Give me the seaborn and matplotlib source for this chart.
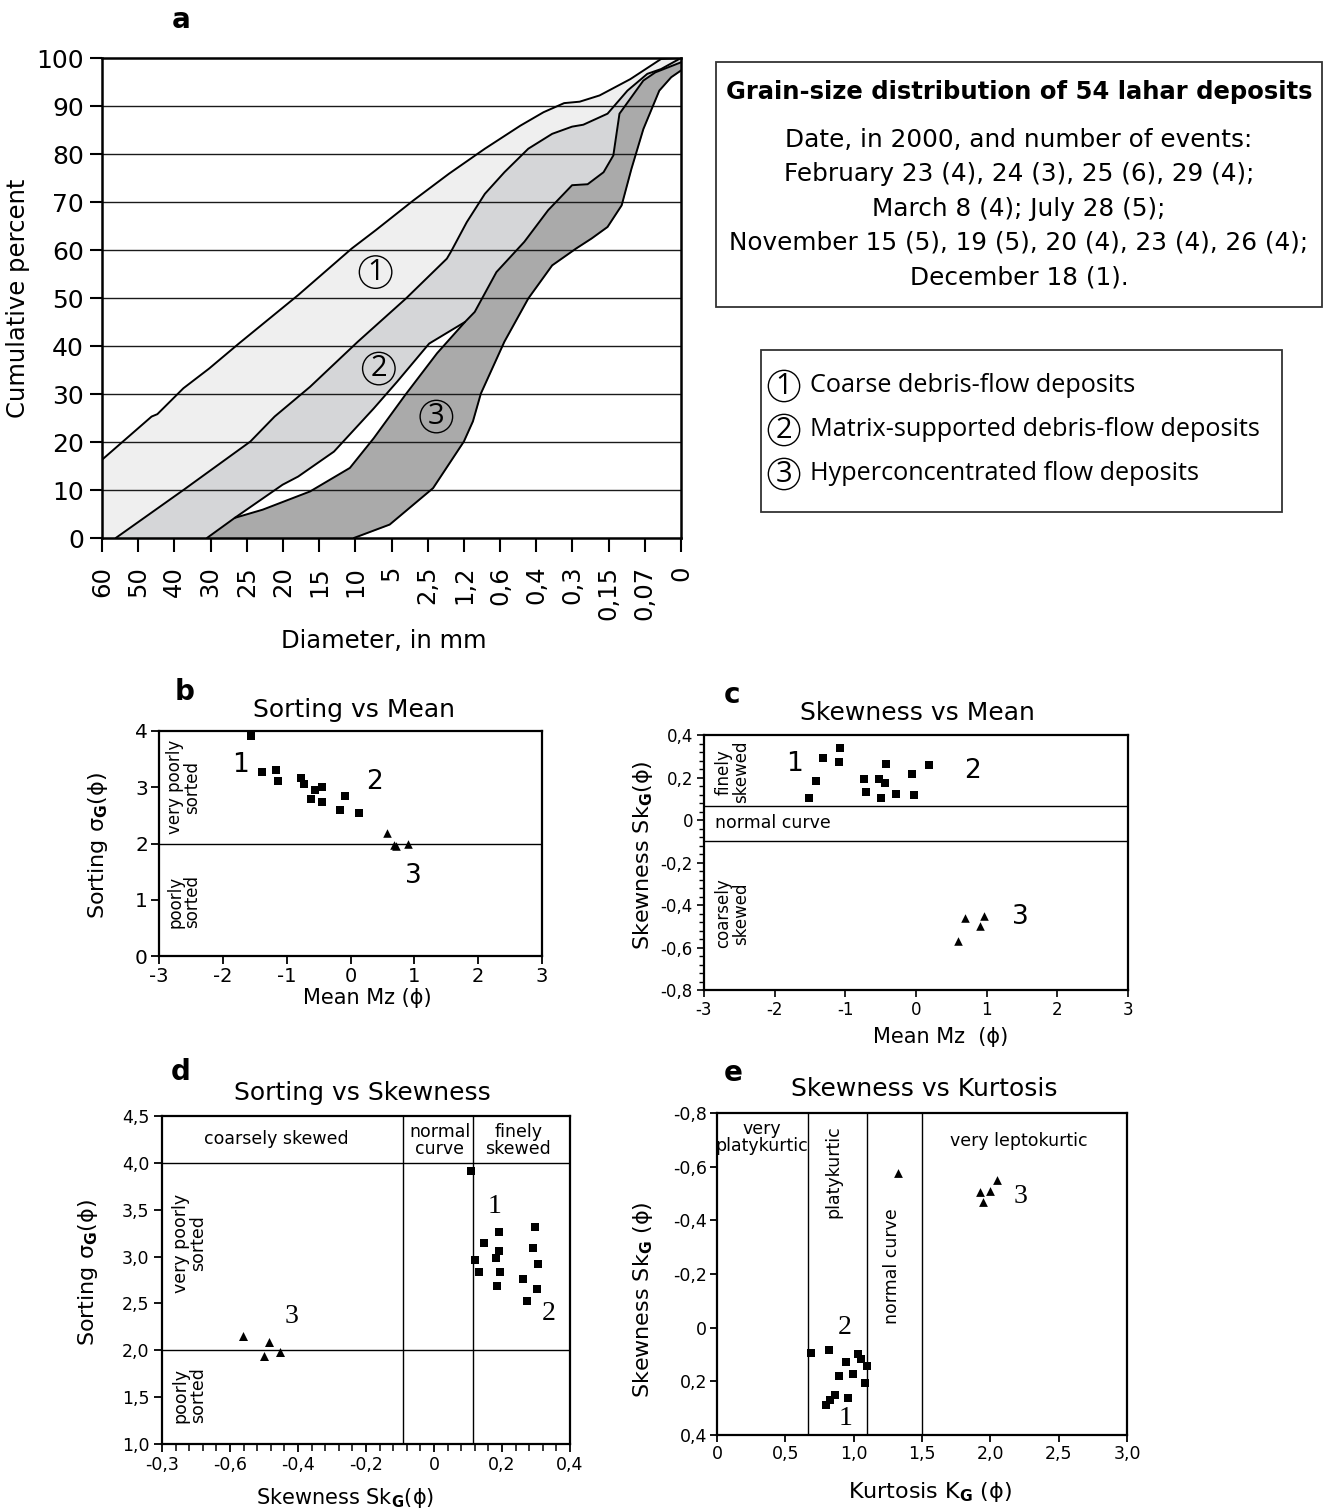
import numpy as np
import matplotlib
matplotlib.use("Agg")
import matplotlib.pyplot as plt
import seaborn as sns
from matplotlib.patches import Rectangle
from matplotlib.ticker import MultipleLocator

sns.set_theme(style="ticks", rc={"axes.edgecolor": "black", "xtick.color": "black",
                                 "ytick.color": "black", "text.color": "black",
                                 "axes.labelcolor": "black"})
plt.rcParams["font.family"] = ["DejaVu Sans"]
plt.rcParams["mathtext.fontset"] = "dejavusans"

# ---------------- data: panel a (cumulative grain-size envelopes) ----------------
size_labels = ["60", "50", "40", "30", "25", "20", "15", "10", "5", "2,5", "1,2",
               "0,6", "0,4", "0,3", "0,15", "0,07", "0"]
pct_ticks = [0, 10, 20, 30, 40, 50, 60, 70, 80, 90, 100]

band1_top_x = [0, 1.37, 1.53, 2.25, 2.96, 3.78, 5.42, 6.9, 7.56, 8.6, 9.59, 10.58,
               11.56, 12.2, 12.77, 13.2, 13.75, 14.6, 15.45, 16]
band1_top_y = [16.3, 25.3, 25.8, 31.2, 35.3, 40.5, 50.6, 60.3, 64.1, 70.3, 75.9, 81.1,
               85.9, 88.7, 90.6, 90.9, 92.2, 95.6, 99.8, 100]

band2_top_x = [0.38, 2.25, 4.1, 4.77, 5.75, 7.07, 8.4, 9.53, 9.64, 10.08, 10.58, 11.12,
               11.78, 12.44, 12.99, 13.3, 13.97, 14.52, 15.07, 15.45, 16]
band2_top_y = [0, 10, 20.1, 25.3, 31.5, 40.9, 49.9, 58.2, 59.6, 65.8, 71.7, 76.2,
               81.1, 84.2, 85.7, 86.1, 88.4, 93.2, 96.7, 97.7, 100]

band2_bot_x = [2.9, 3.67, 4.99, 5.42, 6.41, 7.51, 8.16, 9.04, 10.03, 10.3, 10.9, 11.67,
               12.33, 12.99, 13.42, 13.86, 14.13, 14.3, 14.96, 15.29, 16]
band2_bot_y = [0, 4.2, 11.1, 12.8, 18, 27, 32.6, 40.5, 45, 47.1, 55.4, 61.7,
               68.3, 73.5, 73.7, 76.2, 79.7, 88.4, 95.3, 97, 99.1]

band3_top_x = [3.67, 4.44, 5.75, 6.85, 7.51, 8.38, 9.26, 10.03]
band3_top_y = [4.2, 5.9, 9.7, 14.6, 20.8, 29.8, 38.5, 45]

band3_bot_x = [6.96, 7.95, 9.15, 10, 10.25, 10.47, 11.12, 11.78, 12.44, 13.1, 13.53,
               13.97, 14.36, 14.63, 14.96, 15.4, 15.73, 16]
band3_bot_y = [0, 2.8, 10.4, 20.1, 24.3, 30.1, 40.9, 49.9, 56.8, 60.3, 62.4,
               64.8, 69.3, 76.9, 85.2, 93.2, 96, 97.4]

# ---------------- data: panel b (sorting vs mean) ----------------
b_sq_mean = [-1.56, -1.38, -1.17, -1.13, -0.77, -0.73, -0.62, -0.55, -0.44, -0.45, -0.17, -0.09, 0.13]
b_sq_sort = [3.91, 3.27, 3.31, 3.12, 3.16, 3.06, 2.80, 2.95, 3.00, 2.74, 2.59, 2.85, 2.55]
b_tr_mean = [0.57, 0.68, 0.72, 0.90]
b_tr_sort = [2.18, 1.98, 1.96, 1.99]

# ---------------- data: panel c (skewness vs mean) ----------------
c_sq_mean = [-1.08, -1.32, -1.09, -1.42, -1.52, -0.43, -0.73, -0.53, -0.44, -0.71, -0.49, -0.28, -0.06, -0.03, 0.19]
c_sq_skew = [0.338, 0.294, 0.274, 0.184, 0.103, 0.264, 0.191, 0.191, 0.176, 0.134, 0.103, 0.122, 0.216, 0.118, 0.260]
c_tr_mean = [0.69, 0.96, 0.91, 0.60]
c_tr_skew = [-0.460, -0.452, -0.501, -0.568]

# ---------------- data: panel d (sorting vs skewness) ----------------
d_sq_skew = [0.109, 0.191, 0.147, 0.122, 0.131, 0.190, 0.181, 0.194, 0.184, 0.296, 0.290, 0.306, 0.302, 0.261, 0.273]
d_sq_sort = [3.91, 3.26, 3.15, 2.96, 2.84, 3.06, 2.99, 2.84, 2.69, 3.32, 3.09, 2.92, 2.65, 2.76, 2.53]
d_tr_skew = [-0.563, -0.486, -0.501, -0.453]
d_tr_sort = [2.155, 2.087, 1.94, 1.98]
d_xticks = [-0.8, -0.6, -0.4, -0.2, 0.0, 0.2, 0.4]
d_xticklabels = ["-0,3", "-0,6", "-0,4", "-0,2", "0", "0,2", "0,4"]
d_yticks = [1.0, 1.5, 2.0, 2.5, 3.0, 3.5, 4.0, 4.5]
d_yticklabels = ["1,0", "1,5", "2,0", "2,5", "3,0", "3,5", "4,0", "4,5"]

# ---------------- data: panel e (skewness vs kurtosis) ----------------
e_sq_kurt = [0.689, 0.818, 0.941, 1.029, 1.051, 1.097, 0.892, 0.992, 1.080, 0.860, 0.958, 0.828, 0.794]
e_sq_skew = [0.094, 0.082, 0.127, 0.098, 0.116, 0.141, 0.179, 0.172, 0.205, 0.252, 0.261, 0.271, 0.287]
e_tr_kurt = [1.327, 1.928, 2.000, 2.047, 1.945]
e_tr_skew = [-0.577, -0.506, -0.508, -0.549, -0.469]
e_xticks = [0, 0.5, 1.0, 1.5, 2.0, 2.5, 3.0]
e_xticklabels = ["0", "0,5", "1,0", "1,5", "2,0", "2,5", "3,0"]
e_yticks = [-0.8, -0.6, -0.4, -0.2, 0.0, 0.2, 0.4]
e_yticklabels = ["-0,8", "-0,6", "-0,4", "-0,2", "0", "0,2", "0,4"]
c_yticklabels = ["-0,8", "-0,6", "-0,4", "-0,2", "0", "0,2", "0,4"]

LIGHT, MID, DARK = "#efefef", "#d5d6d8", "#aaaaaa"

W, H = 1324, 1509
fig = plt.figure(figsize=(W / 100, H / 100), dpi=100)


def fx(px):
    return px / W


def fy(py):
    return 1 - py / H


def add_axes(l, r, t, b):
    return fig.add_axes([fx(l), fy(b), (r - l) / W, (b - t) / H])


def style_spines(ax, lw=1.6):
    for s in ax.spines.values():
        s.set_visible(True)
        s.set_linewidth(lw)
        s.set_color("black")


# ================= panel a =================
axa = add_axes(102, 681, 58, 538)
axa.fill_between(band1_top_x, band1_top_y, 0, color=LIGHT, lw=0, zorder=1)
axa.fill_between(band2_top_x, band2_top_y, 0, color=MID, lw=0, zorder=1.1)
axa.fill_between(band2_bot_x, band2_bot_y, 0, color=DARK, lw=0, zorder=1.2)
b2x, b2y = np.array(band2_bot_x), np.array(band2_bot_y)
m = (b2x >= band3_top_x[0]) & (b2x <= band3_top_x[-1])
axa.fill(np.r_[b2x[m], band3_top_x[::-1]], np.r_[b2y[m], band3_top_y[::-1]],
         color="white", lw=0, zorder=1.3)
axa.fill_between(band3_bot_x, band3_bot_y, 0, color="white", lw=0, zorder=1.4)
for yv in pct_ticks[1:-1]:
    axa.axhline(yv, color="#1a1a1a", lw=1.0, zorder=2)
for cx, cy in [(band1_top_x, band1_top_y), (band2_top_x, band2_top_y),
               (band2_bot_x, band2_bot_y), (band3_top_x, band3_top_y),
               (band3_bot_x, band3_bot_y)]:
    sns.lineplot(x=cx, y=cy, ax=axa, color="black", lw=1.4, sort=False,
                 estimator=None, zorder=3)
axa.set_xlim(0, len(size_labels) - 1)
axa.set_ylim(0, 100)
axa.set_xticks(np.arange(len(size_labels)))
axa.set_xticklabels(size_labels, rotation=90, fontsize=17.5)
axa.set_yticks(pct_ticks)
axa.set_yticklabels([str(v) for v in pct_ticks], fontsize=18)
axa.tick_params(axis="x", direction="out", length=10, width=1.5, pad=10)
axa.tick_params(axis="y", direction="out", length=9, width=1.5, pad=4)
style_spines(axa, 1.8)
axa.set_ylabel("Cumulative percent", fontsize=17.5)
axa.set_xlabel("Diameter, in mm", fontsize=17.5)
axa.yaxis.set_label_coords(-0.124, 0.5)
axa.xaxis.set_label_coords(0.487, -0.19)
for (tx, ty, t, fc) in [(7.56, 55.4, "1", LIGHT), (7.65, 35.3, "2", MID), (9.24, 25.3, "3", DARK)]:
    axa.text(tx, ty, t, ha="center", va="center", fontsize=21, family="Open Sans", zorder=5,
             bbox=dict(boxstyle="circle,pad=0.06", fc=fc, ec="black", lw=1.0))

fig.text(fx(181), fy(20), "a", ha="center", va="center", fontsize=20, weight="bold")

# text box
fig.add_artist(Rectangle((fx(716), fy(307)), (1322 - 716) / W, (307 - 62) / H,
                         transform=fig.transFigure, fill=False, ec="#333333", lw=1.3))
fig.text(fx(1019), fy(92), "Grain-size distribution of 54 lahar deposits", ha="center",
         va="center", fontsize=17.5, weight="bold")
box_lines = ["Date, in 2000, and number of events:",
             "February 23 (4), 24 (3), 25 (6), 29 (4);",
             "March 8 (4); July 28 (5);",
             "November 15 (5), 19 (5), 20 (4), 23 (4), 26 (4);",
             "December 18 (1)."]
for i, s in enumerate(box_lines):
    fig.text(fx(1019), fy(140 + 34.3 * i), s, ha="center", va="center", fontsize=17.8)

# legend box
fig.add_artist(Rectangle((fx(761), fy(512)), (1282 - 761) / W, (512 - 350) / H,
                         transform=fig.transFigure, fill=False, ec="#333333", lw=1.3))
legend_items = ["Coarse debris-flow deposits", "Matrix-supported debris-flow deposits",
                "Hyperconcentrated flow deposits"]
for i, s in enumerate(legend_items):
    yy = 386 + 44 * i
    fig.text(fx(784), fy(yy), str(i + 1), ha="center", va="center", fontsize=21,
             family="Open Sans", bbox=dict(boxstyle="circle,pad=0.04", fc="white", ec="black", lw=1.0))
    fig.text(fx(810), fy(yy), s, ha="left", va="center", fontsize=18.2, family="Open Sans")

# ================= panel b =================
axb = add_axes(159, 542, 731, 956)
axb.axhline(2, color="black", lw=1.0, zorder=1)
sns.scatterplot(x=b_sq_mean, y=b_sq_sort, ax=axb, marker="s", color="black", s=32, linewidth=0, zorder=3)
sns.scatterplot(x=b_tr_mean, y=b_tr_sort, ax=axb, marker="^", color="black", s=38, linewidth=0, zorder=3)
axb.set_xlim(-3, 3)
axb.set_ylim(0, 4)
axb.set_xticks([-3, -2, -1, 0, 1, 2, 3])
axb.set_xticklabels(["-3", "-2", "-1", "0", "1", "2", "3"], fontsize=14)
axb.set_yticks([0, 1, 2, 3, 4])
axb.set_yticklabels(["0", "1", "2", "3", "4"], fontsize=14.5)
axb.tick_params(direction="out", length=6, width=1.3, pad=2)
style_spines(axb)
axb.set_ylabel("Sorting σ$_\\mathbf{G}$(ϕ)", fontsize=16)
axb.set_xlabel("Mean Mz (ϕ)", fontsize=15)
axb.yaxis.set_label_coords(-0.128, 0.493)
axb.xaxis.set_label_coords(0.543, -0.14)
axb.text(-2.61, 3.0, "very poorly\nsorted", rotation=90, ha="center", va="center", fontsize=12, linespacing=0.95)
axb.text(-2.61, 0.97, "poorly\nsorted", rotation=90, ha="center", va="center", fontsize=12, linespacing=0.95)
for tx, ty, t in [(-1.72, 3.40, "1"), (0.38, 3.10, "2"), (0.98, 1.42, "3")]:
    axb.text(tx, ty, t, ha="center", va="center", fontsize=19)
fig.text(fx(354), fy(710), "Sorting vs Mean", ha="center", va="center", fontsize=18)
fig.text(fx(185), fy(692), "b", ha="center", va="center", fontsize=20, weight="bold")

# ================= panel c =================
axc = add_axes(704, 1128, 735, 990)
axc.axhline(0.065, color="black", lw=1.0, zorder=1)
axc.axhline(-0.10, color="black", lw=1.0, zorder=1)
sns.scatterplot(x=c_sq_mean, y=c_sq_skew, ax=axc, marker="s", color="black", s=32, linewidth=0, zorder=3)
sns.scatterplot(x=c_tr_mean, y=c_tr_skew, ax=axc, marker="^", color="black", s=38, linewidth=0, zorder=3)
axc.set_xlim(-3, 3)
axc.set_ylim(-0.8, 0.4)
axc.set_xticks([-3, -2, -1, 0, 1, 2, 3])
axc.set_xticklabels(["-3", "-2", "-1", "0", "1", "2", "3"], fontsize=12)
axc.set_yticks(e_yticks)
axc.set_yticklabels(c_yticklabels, fontsize=12)
axc.yaxis.set_minor_locator(MultipleLocator(0.04))
axc.tick_params(which="major", direction="out", length=5, width=1.2, pad=3)
axc.tick_params(axis="y", which="minor", direction="out", length=3.5, width=1.0)
style_spines(axc)
axc.set_ylabel("Skewness Sk$_\\mathbf{G}$(ϕ)", fontsize=16)
axc.set_xlabel("Mean Mz  (ϕ)", fontsize=15)
axc.yaxis.set_label_coords(-0.116, 0.53)
axc.xaxis.set_label_coords(0.557, -0.145)
axc.text(-2.6, 0.225, "finely\nskewed", rotation=90, ha="center", va="center", fontsize=12, linespacing=0.95)
axc.text(-2.85, -0.016, "normal curve", ha="left", va="center", fontsize=12.5)
axc.text(-2.6, -0.44, "coarsely\nskewed", rotation=90, ha="center", va="center", fontsize=12, linespacing=0.95)
for tx, ty, t in [(-1.72, 0.264, "1"), (0.80, 0.232, "2"), (1.48, -0.457, "3")]:
    axc.text(tx, ty, t, ha="center", va="center", fontsize=19)
fig.text(fx(917), fy(713), "Skewness vs Mean", ha="center", va="center", fontsize=18)
fig.text(fx(732), fy(695), "c", ha="center", va="center", fontsize=20, weight="bold")

# ================= panel d =================
axd = add_axes(162, 570, 1116, 1444)
axd.axhline(4.0, color="black", lw=1.0, zorder=1)
axd.axhline(2.0, color="black", lw=1.0, zorder=1)
axd.axvline(-0.09, color="black", lw=1.0, zorder=1)
axd.axvline(0.116, color="black", lw=1.0, zorder=1)
sns.scatterplot(x=d_sq_skew, y=d_sq_sort, ax=axd, marker="s", color="black", s=36, linewidth=0, zorder=3)
sns.scatterplot(x=d_tr_skew, y=d_tr_sort, ax=axd, marker="^", color="black", s=42, linewidth=0, zorder=3)
axd.set_xlim(-0.8, 0.4)
axd.set_ylim(1.0, 4.5)
axd.set_xticks(d_xticks)
axd.set_xticklabels(d_xticklabels, fontsize=12.5)
axd.set_yticks(d_yticks)
axd.set_yticklabels(d_yticklabels, fontsize=12.5)
axd.xaxis.set_minor_locator(MultipleLocator(0.04))
axd.tick_params(which="major", direction="out", length=6, width=1.3, pad=3)
axd.tick_params(axis="x", which="minor", direction="out", length=5, width=1.1)
style_spines(axd)
axd.set_ylabel("Sorting σ$_\\mathbf{G}$(ϕ)", fontsize=16)
axd.set_xlabel("Skewness Sk$_\\mathbf{G}$(ϕ)", fontsize=15)
axd.yaxis.set_label_coords(-0.152, 0.524)
axd.xaxis.set_label_coords(0.449, -0.128)
axd.text(-0.463, 4.25, "coarsely skewed", ha="center", va="center", fontsize=12.5)
axd.text(0.017, 4.24, "normal\ncurve", ha="center", va="center", fontsize=12.5, linespacing=0.95)
axd.text(0.248, 4.24, "finely\nskewed", ha="center", va="center", fontsize=12.5, linespacing=0.95)
axd.text(-0.72, 3.14, "very poorly\nsorted", rotation=90, ha="center", va="center", fontsize=12.5, linespacing=0.95)
axd.text(-0.72, 1.52, "poorly\nsorted", rotation=90, ha="center", va="center", fontsize=12.5, linespacing=0.95)
for tx, ty, t in [(0.177, 3.53, "1"), (0.336, 2.39, "2"), (-0.419, 2.36, "3")]:
    axd.text(tx, ty, t, ha="center", va="center", fontsize=20, family="Liberation Serif")
fig.text(fx(362), fy(1093), "Sorting vs Skewness", ha="center", va="center", fontsize=18)
fig.text(fx(181), fy(1072), "d", ha="center", va="center", fontsize=20, weight="bold")

# ================= panel e =================
axe = add_axes(717, 1127, 1113, 1435)
for xv in [0.665, 1.095, 1.5]:
    axe.axvline(xv, color="black", lw=1.0, zorder=1)
sns.scatterplot(x=e_sq_kurt, y=e_sq_skew, ax=axe, marker="s", color="black", s=34, linewidth=0, zorder=3)
sns.scatterplot(x=e_tr_kurt, y=e_tr_skew, ax=axe, marker="^", color="black", s=40, linewidth=0, zorder=3)
axe.set_xlim(0, 3)
axe.set_ylim(0.4, -0.8)
axe.set_xticks(e_xticks)
axe.set_xticklabels(e_xticklabels, fontsize=12.5)
axe.set_yticks(e_yticks)
axe.set_yticklabels(e_yticklabels, fontsize=12.5)
axe.tick_params(direction="out", length=5, width=1.3, pad=2)
style_spines(axe)
axe.set_ylabel("Skewness Sk$_\\mathbf{G}$ (ϕ)", fontsize=16)
axe.set_xlabel("Kurtosis K$_\\mathbf{G}$ (ϕ)", fontsize=16)
axe.yaxis.set_label_coords(-0.151, 0.42)
axe.xaxis.set_label_coords(0.52, -0.14)
axe.text(0.325, -0.708, "very\nplatykurtic", ha="center", va="center", fontsize=12.5, linespacing=0.95)
axe.text(0.85, -0.58, "platykurtic", rotation=90, ha="center", va="center", fontsize=12.5)
axe.text(1.278, -0.23, "normal curve", rotation=90, ha="center", va="center", fontsize=12.5)
axe.text(2.206, -0.696, "very leptokurtic", ha="center", va="center", fontsize=12.5)
for tx, ty, t in [(0.936, 0.0, "2"), (0.941, 0.338, "1"), (2.218, -0.49, "3")]:
    axe.text(tx, ty, t, ha="center", va="center", fontsize=20, family="Liberation Serif")
fig.text(fx(924), fy(1089), "Skewness vs Kurtosis", ha="center", va="center", fontsize=18)
fig.text(fx(733), fy(1073), "e", ha="center", va="center", fontsize=20, weight="bold")

fig.savefig("out.png", dpi=100, facecolor="white")
